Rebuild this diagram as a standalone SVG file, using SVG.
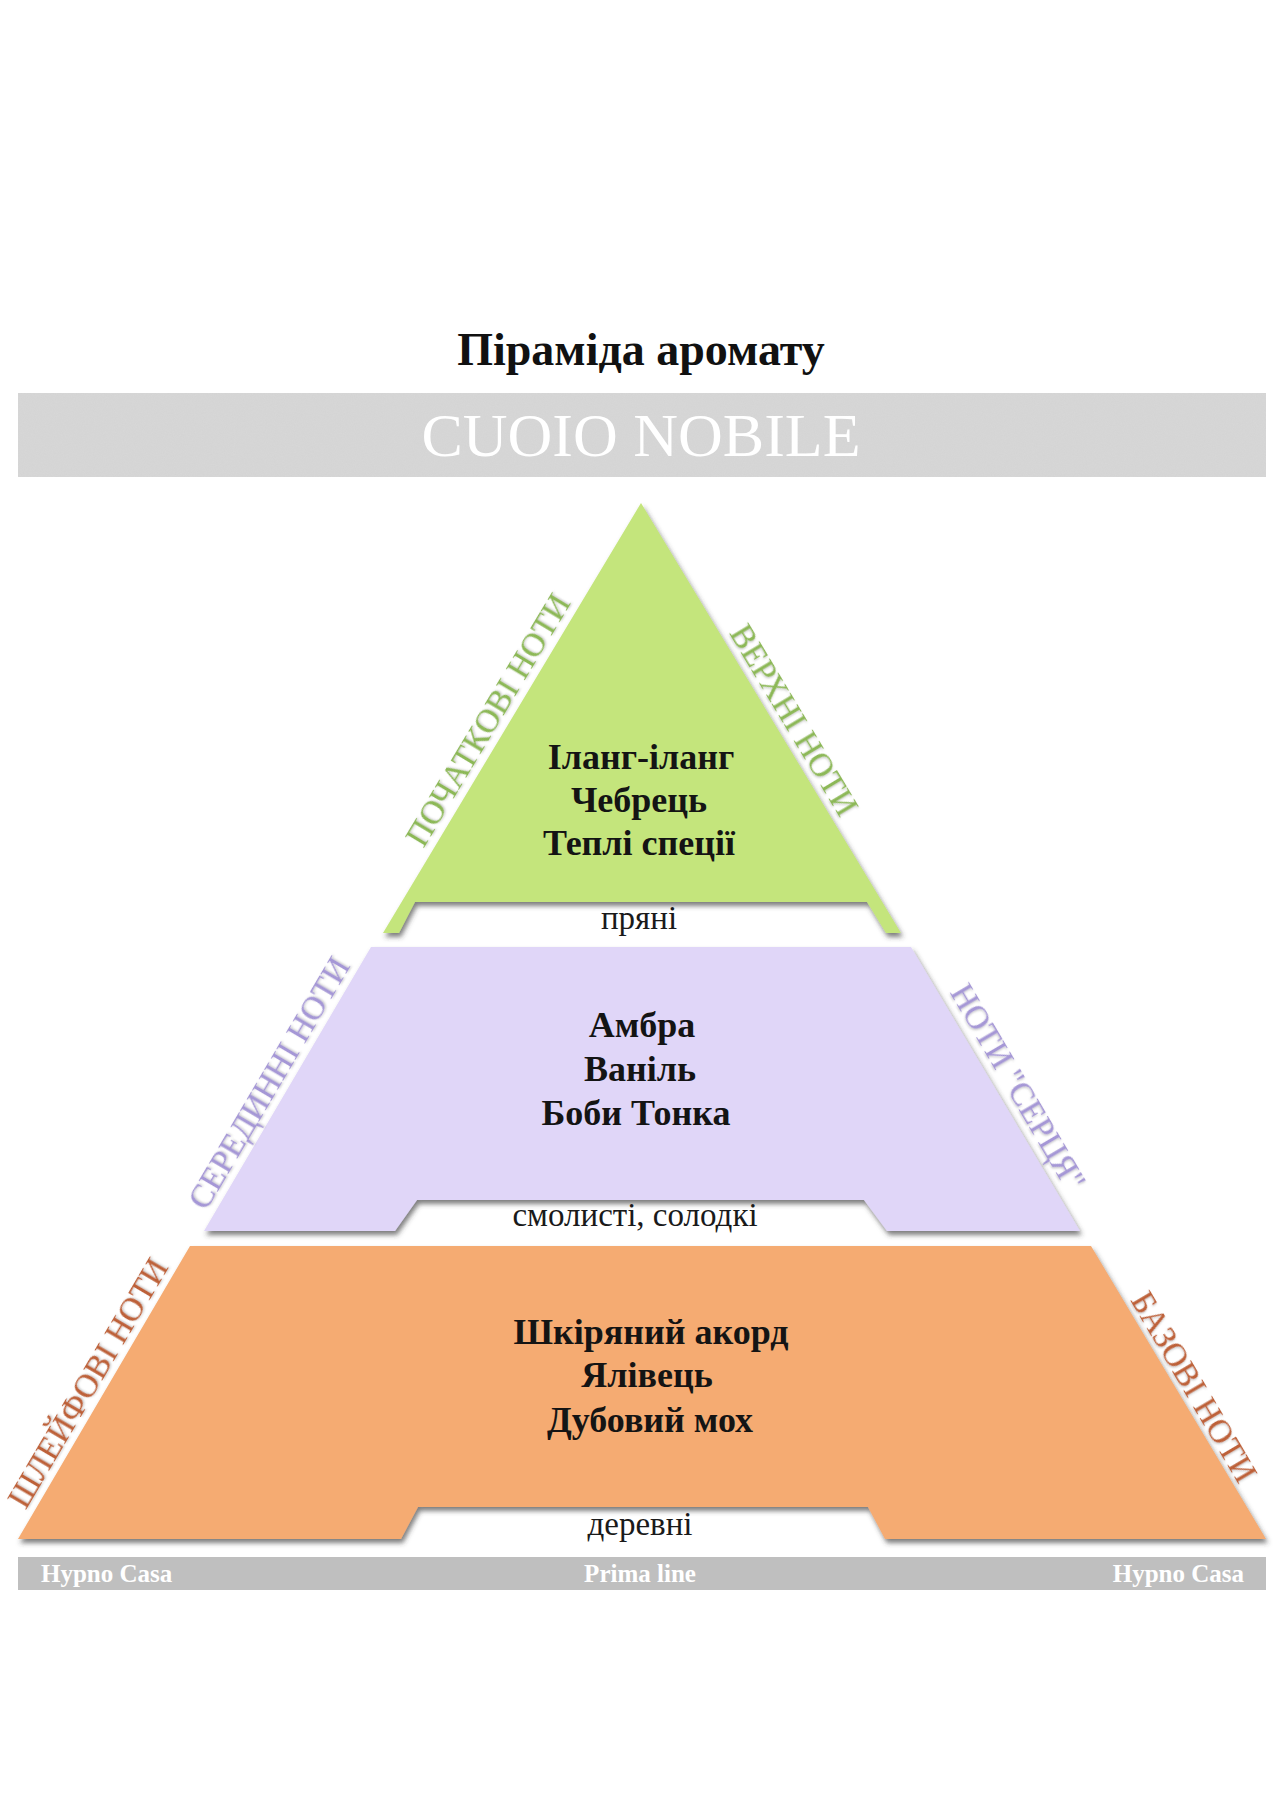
<svg xmlns="http://www.w3.org/2000/svg" width="1284" height="1801" viewBox="0 0 1284 1801">
<defs>
<style>
.serif{font-family:"Liberation Serif","DejaVu Serif",serif;}
.title{font-size:46px;font-weight:bold;fill:#111;}
.banner-t{font-size:62px;fill:#ffffff;}
.note{font-size:36px;font-weight:bold;fill:#141414;text-anchor:middle;}
.sub{font-size:33px;fill:#1a1a1a;text-anchor:middle;}
.lbl{font-size:33px;text-anchor:middle;}
.g{fill:#8cb856;}
.p{fill:#a597d6;}
.o{fill:#bd6038;}
.foot{font-size:25px;font-weight:bold;fill:#ffffff;}
</style>
<filter id="sh" x="-10%" y="-10%" width="120%" height="125%">
<feDropShadow dx="2" dy="4" stdDeviation="2.5" flood-color="#3a3a3a" flood-opacity="0.65"/>
</filter>
<filter id="ts" x="-10%" y="-10%" width="120%" height="130%">
<feDropShadow dx="1" dy="1" stdDeviation="0.8" flood-color="#555" flood-opacity="0.35"/>
</filter>
<filter id="noise" x="0" y="0" width="100%" height="100%">
<feTurbulence type="fractalNoise" baseFrequency="0.9" numOctaves="2" seed="3" result="n"/>
<feColorMatrix in="n" type="matrix" values="0 0 0 0 0.5  0 0 0 0 0.5  0 0 0 0 0.5  0 0 0 0.18 0" result="nc"/>
<feComposite in="nc" in2="SourceGraphic" operator="in" result="nm"/>
<feMerge><feMergeNode in="SourceGraphic"/><feMergeNode in="nm"/></feMerge>
</filter>
</defs>
<rect width="1284" height="1801" fill="#ffffff"/>

<g id="title">
<text class="serif title" x="641" y="365" text-anchor="middle">Піраміда аромату</text>
</g>

<g id="banner">
<rect x="18" y="393" width="1248" height="84" fill="#d8d8d8" filter="url(#noise)"/>
<text class="serif banner-t" x="641" y="456" text-anchor="middle">CUOIO NOBILE</text>
</g>

<g id="top-notes">
<polygon points="641,503 901,933 886,933 867,902 415,902 399,933 383,933" fill="#c4e57c" filter="url(#sh)"/>
<text class="serif note" x="641" y="769">Іланг-іланг</text>
<text class="serif note" x="639" y="812">Чебрець</text>
<text class="serif note" x="639" y="855">Теплі спеції</text>
<text class="serif sub" x="639" y="929">пряні</text>
<text class="serif lbl g" filter="url(#ts)" transform="translate(488,720) rotate(-59)" y="11">ПОЧАТКОВІ НОТИ</text>
<text class="serif lbl g" filter="url(#ts)" transform="translate(794,720) rotate(59)" y="11">ВЕРХНІ НОТИ</text>
</g>

<g id="middle-notes">
<polygon points="371,947 911,947 1080,1231 887,1231 864,1200 417,1200 395,1231 204,1231" fill="#e0d6f8" filter="url(#sh)"/>
<text class="serif note" x="642" y="1037">Амбра</text>
<text class="serif note" x="640" y="1081">Ваніль</text>
<text class="serif note" x="636" y="1125">Боби Тонка</text>
<text class="serif sub" x="635" y="1226">смолисті, солодкі</text>
<text class="serif lbl p" filter="url(#ts)" transform="translate(269,1083) rotate(-59.5)" y="11">СЕРЕДИННІ НОТИ</text>
<text class="serif lbl p" filter="url(#ts)" transform="translate(1018,1087) rotate(59.5)" y="11">НОТИ "СЕРЦЯ"</text>
</g>

<g id="base-notes">
<polygon points="190,1246 1091,1246 1266,1539 885,1539 868,1507 418,1507 401,1539 18,1539" fill="#f5ab72" filter="url(#sh)"/>
<text class="serif note" x="651" y="1344">Шкіряний акорд</text>
<text class="serif note" x="647" y="1387">Ялівець</text>
<text class="serif note" x="650" y="1432">Дубовий мох</text>
<text class="serif sub" x="640" y="1535">деревні</text>
<text class="serif lbl o" filter="url(#ts)" transform="translate(88,1383) rotate(-59.5)" y="11">ШЛЕЙФОВІ НОТИ</text>
<text class="serif lbl o" filter="url(#ts)" transform="translate(1194,1387) rotate(59.5)" y="11">БАЗОВІ НОТИ</text>
</g>

<g id="footer">
<rect x="18" y="1557" width="1248" height="33" fill="#bfbfbf"/>
<text class="serif foot" x="41" y="1582">Hypno Casa</text>
<text class="serif foot" x="640" y="1582" text-anchor="middle">Prima line</text>
<text class="serif foot" x="1244" y="1582" text-anchor="end">Hypno Casa</text>
</g>

<g id="connectors"></g>
</svg>
